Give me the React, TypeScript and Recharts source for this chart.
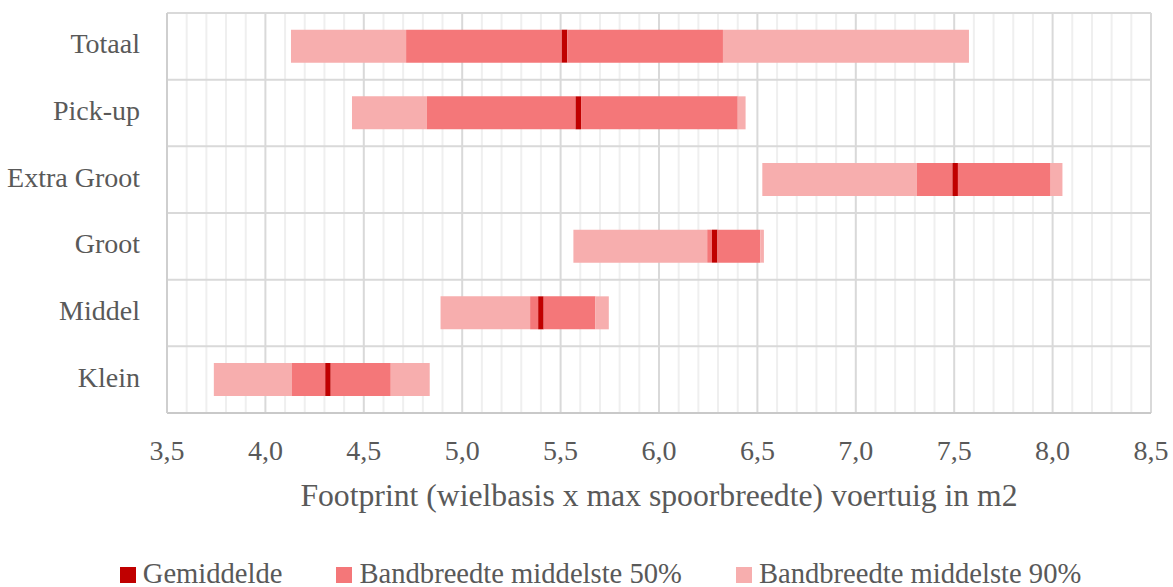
import React from "react";
import { BarChart, Bar, XAxis, YAxis, CartesianGrid, Legend, Label } from "recharts";

const categories = ["Totaal", "Pick-up", "Extra Groot", "Groot", "Middel", "Klein"];
const p5 = [4.13, 4.44, 6.525, 5.565, 4.89, 3.738];
const p25 = [4.715, 4.82, 7.31, 6.245, 5.345, 4.135];
const means = [5.52, 5.59, 7.505, 6.283, 5.4, 4.318];
const p75 = [6.325, 6.4, 7.99, 6.515, 5.677, 4.637];
const p95 = [7.575, 6.44, 8.05, 6.533, 5.745, 4.835];
const xTicks = [3.5, 4.0, 4.5, 5.0, 5.5, 6.0, 6.5, 7.0, 7.5, 8.0, 8.5];
const MEAN_W = 0.028;

const C_MEAN = "#c00000";
const C_50 = "#f47779";
const C_90 = "#f7aeae";
const TXT = "#595959";
const FONT = "'Liberation Serif', 'Times New Roman', serif";

const data = categories.map((name, i) => {
  const ms = means[i] - MEAN_W / 2;
  const me = means[i] + MEAN_W / 2;
  return {
    name,
    base: p5[i],
    lo90: p25[i] - p5[i],
    lo50: ms - p25[i],
    mean: MEAN_W,
    hi50: p75[i] - me,
    hi90: p95[i] - p75[i],
  };
});

const DOMAIN: [number, number] = [3.5, 8.5];

function xPos(v: number, offset: any) {
  return offset.left + ((v - DOMAIN[0]) / (DOMAIN[1] - DOMAIN[0])) * offset.width;
}

const minorGen = ({ offset }: any) => {
  const out: number[] = [];
  for (let k = 36; k <= 84; k++) {
    if (k % 5 !== 0) out.push(xPos(k / 10, offset));
  }
  return out;
};
const majorGen = ({ offset }: any) => xTicks.map((v) => xPos(v, offset));
const rowGen = ({ offset }: any) => {
  const out: number[] = [];
  for (let i = 0; i <= categories.length; i++) {
    out.push(offset.top + (i * offset.height) / categories.length);
  }
  return out;
};

const legendItems = [
  { label: "Gemiddelde", color: C_MEAN },
  { label: "Bandbreedte middelste 50%", color: C_50 },
  { label: "Bandbreedte middelste 90%", color: C_90 },
];

const LegendContent = () => (
  <div
    style={{
      height: 28,
      display: "flex",
      justifyContent: "center",
      fontFamily: FONT,
      fontSize: 28.6,
      lineHeight: "30px",
      color: TXT,
      paddingLeft: 50,
      whiteSpace: "nowrap",
    }}
  >
    {legendItems.map((it, i) => (
      <span key={it.label} style={{ marginRight: i < legendItems.length - 1 ? 54 : 0 }}>
        <span
          style={{
            display: "inline-block",
            width: 16,
            height: 16,
            background: it.color,
            marginRight: 7,
            verticalAlign: "baseline",
          }}
        />
        {it.label}
      </span>
    ))}
  </div>
);

export default function App() {
  return (
    <div style={{ position: "absolute", left: 0, top: 0, width: 1173, height: 587, background: "#fff", fontFamily: FONT }}>
      <BarChart
        width={1173}
        height={587}
        data={data}
        layout="vertical"
        margin={{ top: 13, right: 22, left: 0, bottom: 0 }}
        barCategoryGap="25%"
      >
        <CartesianGrid vertical horizontal={false} stroke="#efefef" strokeWidth={2} verticalCoordinatesGenerator={minorGen} />
        <CartesianGrid
          vertical
          horizontal
          stroke="#d9d9d9"
          strokeWidth={2}
          verticalCoordinatesGenerator={majorGen}
          horizontalCoordinatesGenerator={rowGen}
        />
        <XAxis
          type="number"
          domain={DOMAIN}
          ticks={xTicks}
          interval={0}
          allowDataOverflow
          tickFormatter={(v: number) => v.toFixed(1).replace(".", ",")}
          tickLine={false}
          tickSize={0}
          tickMargin={27}
          axisLine={{ stroke: "#c9c9c9", strokeWidth: 2 }}
          tick={{ fontSize: 28, fill: TXT, fontFamily: FONT }}
          height={146}
        >
          <Label
            content={({ viewBox }: any) => (
              <text
                x={viewBox.x + viewBox.width / 2}
                y={viewBox.y + 93}
                textAnchor="middle"
                fontSize={31.7}
                fill={TXT}
                fontFamily={FONT}
              >
                Footprint (wielbasis x max spoorbreedte) voertuig in m2
              </text>
            )}
          />
        </XAxis>
        <YAxis
          type="category"
          dataKey="name"
          width={167}
          tickLine={false}
          tickSize={0}
          tickMargin={27}
          axisLine={{ stroke: "#cfcfcf", strokeWidth: 2 }}
          tick={{ fontSize: 28, fill: TXT, fontFamily: FONT, dy: -3 }}
        />
        <Legend verticalAlign="bottom" content={<LegendContent />} />
        <Bar dataKey="base" stackId="a" fill="transparent" isAnimationActive={false} legendType="none" />
        <Bar dataKey="lo90" stackId="a" fill={C_90} isAnimationActive={false} />
        <Bar dataKey="lo50" stackId="a" fill={C_50} isAnimationActive={false} />
        <Bar dataKey="mean" stackId="a" fill={C_MEAN} isAnimationActive={false} />
        <Bar dataKey="hi50" stackId="a" fill={C_50} isAnimationActive={false} />
        <Bar dataKey="hi90" stackId="a" fill={C_90} isAnimationActive={false} />
      </BarChart>
    </div>
  );
}
